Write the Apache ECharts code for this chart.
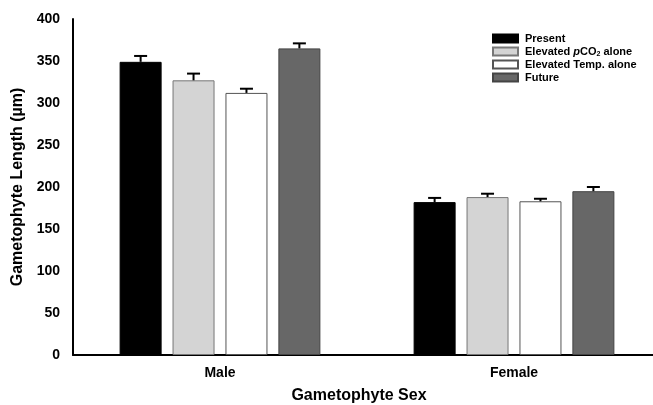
<!DOCTYPE html>
<html>
<head>
<meta charset="utf-8">
<script src="https://cdn.jsdelivr.net/npm/echarts@6/dist/echarts.min.js"></script>
<style>
  html, body { margin: 0; padding: 0; background: #fff; }
  #chart { width: 653px; height: 405px; }
</style>
</head>
<body>
<div id="chart"></div>
<script>
// Gametophyte length by sex under four treatments (mean + SE)
const categories = ['Male', 'Female'];
const treatments = ['Present', 'Elevated pCO2 alone', 'Elevated Temp. alone', 'Future'];
const means = [
  [349, 182],   // Present
  [327, 188],   // Elevated pCO2 alone
  [312, 183],   // Elevated Temp. alone
  [365, 195]    // Future
];
const errors = [
  [7, 5],
  [8, 4],
  [5, 3],
  [6, 5]
];
const yTicks = [0, 50, 100, 150, 200, 250, 300, 350, 400];

const fills = ['#000000', '#d4d4d4', '#ffffff', '#676767'];
const borders = ['#000000', '#777777', '#555555', '#444444'];
const FONT = 'Liberation Sans, Arial, sans-serif';
const BAR_W = 42;
const BAR_GAP = '26%';

const chart = echarts.init(document.getElementById('chart'), null, { renderer: 'canvas' });

const barSeries = treatments.map((name, i) => ({
  name: name,
  type: 'bar',
  barWidth: BAR_W,
  barGap: BAR_GAP,
  data: means[i],
  itemStyle: { color: fills[i], borderColor: borders[i], borderWidth: 1 },
  z: 2
}));

const errorSeries = treatments.map((name, i) => ({
  type: 'custom',
  name: name + ' SE',
  data: means[i].map((m, c) => [c, m, m + errors[i][c]]),
  z: 3,
  silent: true,
  renderItem: function (params, api) {
    const layout = api.barLayout({ count: treatments.length, barWidth: BAR_W, barGap: BAR_GAP });
    const off = layout[i].offsetCenter;
    const lo = api.coord([api.value(0), api.value(1)]);
    const hi = api.coord([api.value(0), api.value(2)]);
    const x = lo[0] + off;
    const half = 6.5;
    const style = { stroke: '#000', lineWidth: 2 };
    return {
      type: 'group',
      children: [
        { type: 'line', shape: { x1: x, y1: lo[1], x2: x, y2: hi[1] }, style: style },
        { type: 'line', shape: { x1: x - half, y1: hi[1], x2: x + half, y2: hi[1] }, style: style }
      ]
    };
  }
}));

chart.setOption({
  animation: false,
  backgroundColor: '#ffffff',
  textStyle: { fontFamily: FONT },
  grid: { left: 73, top: 19, width: 588, height: 336, containLabel: false, outerBoundsMode: 'none' },
  legend: {
    data: treatments,
    orient: 'vertical',
    left: 492,
    top: 32,
    padding: 0,
    icon: 'rect',
    itemWidth: 25,
    itemHeight: 8,
    itemGap: 0,
    selectedMode: false,
    formatter: function (name) {
      if (name === 'Elevated pCO2 alone') {
        return 'Elevated {it|p}CO{sub|2} alone';
      }
      return name;
    },
    textStyle: {
      fontFamily: FONT,
      fontSize: 11,
      fontWeight: 'bold',
      color: '#000',
      lineHeight: 13,
      padding: [0, 0, 0, 2],
      rich: {
        it: { fontFamily: FONT, fontSize: 11, fontWeight: 'bold', fontStyle: 'italic', color: '#000' },
        sub: { fontFamily: FONT, fontSize: 7, fontWeight: 'bold', color: '#000', verticalAlign: 'bottom', padding: [5, 0, 0, 0] }
      }
    }
  },
  xAxis: {
    type: 'category',
    data: categories,
    name: 'Gametophyte Sex',
    nameLocation: 'middle',
    nameGap: 33,
    nameTextStyle: { fontFamily: FONT, fontSize: 16, fontWeight: 'bold', color: '#000', padding: [0, 16, 0, 0] },
    axisLine: { lineStyle: { color: '#000', width: 2 } },
    axisTick: { show: false },
    axisLabel: { fontFamily: FONT, fontSize: 14, fontWeight: 'bold', color: '#000', margin: 11 },
    splitLine: { show: false }
  },
  yAxis: {
    type: 'value',
    min: yTicks[0],
    max: yTicks[yTicks.length - 1],
    interval: yTicks[1] - yTicks[0],
    name: 'Gametophyte Length (µm)',
    nameLocation: 'middle',
    nameGap: 47,
    nameTextStyle: { fontFamily: FONT, fontSize: 16, fontWeight: 'bold', color: '#000' },
    axisLine: { show: true, lineStyle: { color: '#000', width: 2 } },
    axisTick: { show: false },
    axisLabel: { fontFamily: FONT, fontSize: 14, fontWeight: 'bold', color: '#000', margin: 13 },
    splitLine: { show: false }
  },
  series: barSeries.concat(errorSeries)
});
</script>
</body>
</html>
